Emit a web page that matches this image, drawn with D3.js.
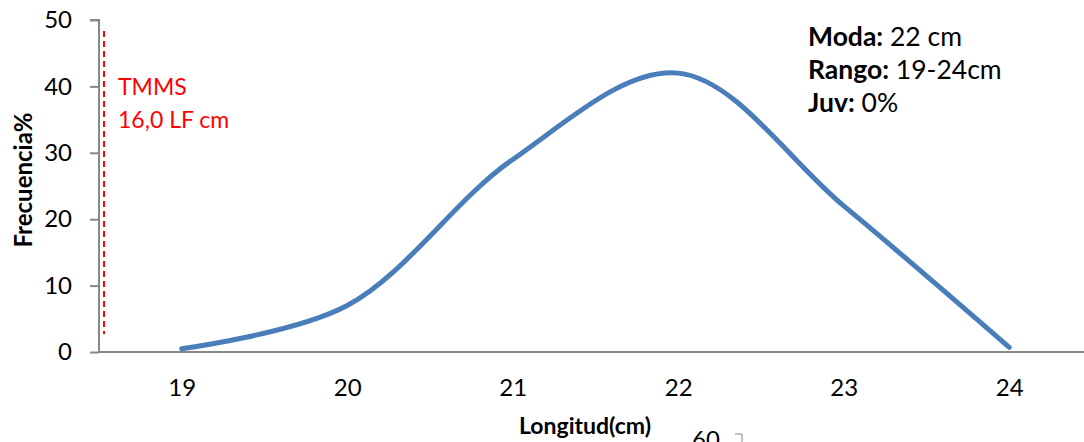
<!DOCTYPE html>
<html><head><meta charset="utf-8">
<script src="https://cdn.jsdelivr.net/npm/d3@7"></script>
<style>body{margin:0;background:#fff}svg{display:block}text{font-family:Lato,"Open Sans",sans-serif}</style>
</head><body><svg id="c" width="1084" height="442"></svg>
<script>
const categories = [19, 20, 21, 22, 23, 24];
const frecuencia = [0.5, 7, 29, 42, 22, 0.7];
const yTicks = [0, 10, 20, 30, 40, 50];
const tmmsLabel = ["TMMS", "16,0 LF cm"];
const stats = [["Moda:", " 22 cm"], ["Rango:", " 19-24cm"], ["Juv:", " 0%"]];

const svg = d3.select("#c");
const x = d3.scaleLinear().domain([18.5, 24.5]).range([99, 1092]);
const y = d3.scaleLinear().domain([0, 50]).range([352, 20]);

// y axis
const ya = svg.append("g").attr("transform", "translate(99,0)")
  .call(d3.axisLeft(y).tickValues(yTicks).tickFormat(d3.format("d")).tickSize(9).tickPadding(18));
ya.select(".domain").attr("stroke", "#878787").attr("stroke-width", 2).attr("d", `M-9,${y(50)}H0V${y(0)}`);
ya.selectAll(".tick line").attr("stroke", "#878787").attr("stroke-width", 2);
ya.selectAll(".tick text").attr("font-size", 24).attr("fill", "#000").attr("font-family", "Lato");

// x axis
const xa = svg.append("g").attr("transform", `translate(0,${y(0)})`)
  .call(d3.axisBottom(x).tickValues(categories).tickFormat(d3.format("d")).tickSize(0).tickPadding(44));
xa.select(".domain").attr("stroke", "#878787").attr("stroke-width", 2).attr("d", `M99,0H1084`);
xa.selectAll(".tick text").attr("font-size", 24).attr("fill", "#000").attr("font-family", "Lato").attr("dy", "0");

// TMMS dashed line
svg.append("line").attr("x1", 104).attr("x2", 104).attr("y1", 31).attr("y2", 334)
  .attr("stroke", "#ff0000").attr("stroke-width", 2).attr("stroke-dasharray", "6,4");
svg.selectAll("text.tmms").data(tmmsLabel).enter().append("text")
  .attr("x", 118).attr("y", (d, i) => 95 + i * 33).attr("fill", "#ff0000").attr("font-size", 23).text(d => d);

// line
const line = d3.line().x((d, i) => x(categories[i])).y(d => y(d)).curve(d3.curveCatmullRom.alpha(0.5));
svg.append("path").datum(frecuencia).attr("d", line).attr("fill", "none")
  .attr("stroke", "#4a7ebb").attr("stroke-width", 5).attr("stroke-linecap", "round");

// stats
const st = svg.selectAll("text.st").data(stats).enter().append("text")
  .attr("x", 808).attr("y", (d, i) => 46 + i * 33).attr("font-size", 26.5).attr("fill", "#000");
st.append("tspan").attr("font-weight", "bold").text(d => d[0]);
st.append("tspan").text(d => d[1]);

// axis titles
svg.append("text").attr("transform", "translate(32,180) rotate(-90)").attr("text-anchor", "middle")
  .attr("font-size", 24).attr("font-weight", "bold").text("Frecuencia%");
svg.append("text").attr("x", 585).attr("y", 434).attr("text-anchor", "middle")
  .attr("font-size", 23).attr("font-weight", "bold").text("Longitud(cm)");
svg.append("text").attr("x", 706).attr("y", 448).attr("text-anchor", "middle")
  .attr("font-size", 24).text("60");
svg.append("path").attr("d", "M735,434H742V442").attr("fill", "none").attr("stroke", "#888").attr("stroke-width", 1);
</script></body></html>
